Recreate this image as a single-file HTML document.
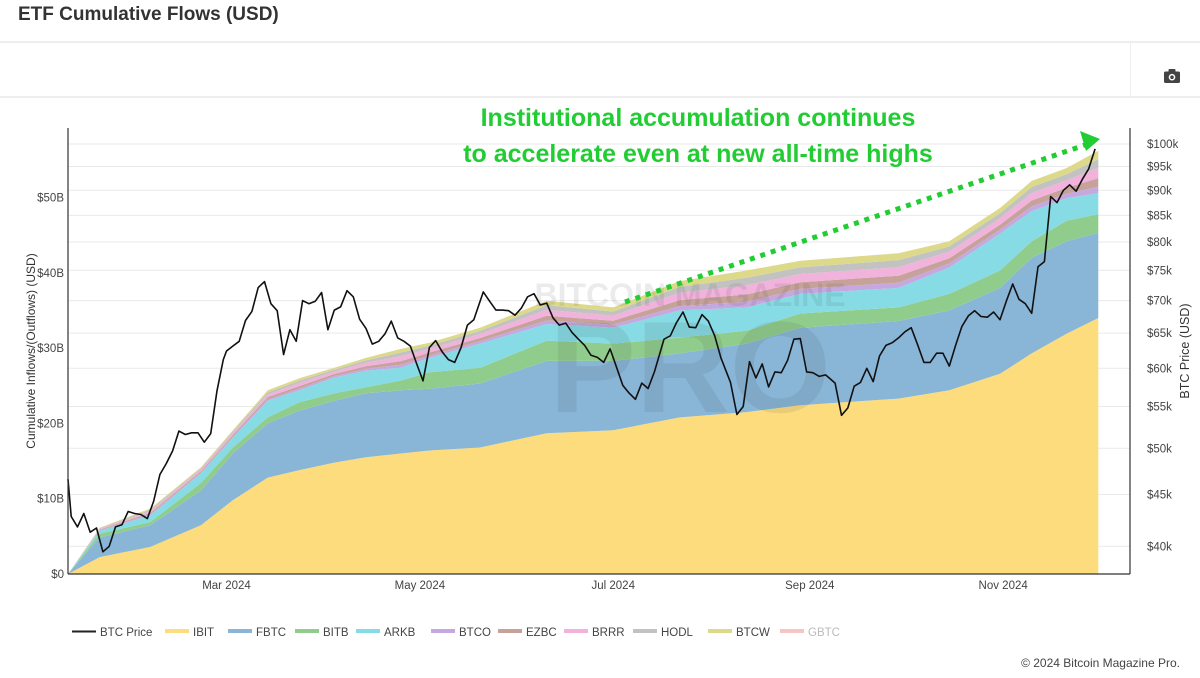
<!DOCTYPE html>
<html><head><meta charset="utf-8">
<style>
html,body{margin:0;padding:0;background:#fff;}
body{width:1200px;height:678px;position:relative;overflow:hidden;font-family:"Liberation Sans",sans-serif;}
#title{position:absolute;left:18px;top:4px;font-size:19px;font-weight:bold;color:#333;}
.hl{position:absolute;left:0;width:1200px;height:2px;background:#eee;}
#vsep{position:absolute;left:1130px;top:43px;width:1px;height:54px;background:#eee;}
#chart{position:absolute;left:0;top:0;}
</style></head><body>
<div id="title">ETF Cumulative Flows (USD)</div>
<div class="hl" style="top:41px"></div>
<div class="hl" style="top:96px"></div>
<div id="vsep"></div>
<svg id="camera" style="position:absolute;left:1164px;top:69px" width="16" height="14" viewBox="0 0 16 14">
<rect x="0" y="2.5" width="16" height="11.5" rx="1.5" fill="#444"/><rect x="4.5" y="0" width="7" height="4" rx="1" fill="#444"/><circle cx="8" cy="8.2" r="3.3" fill="#fff"/><circle cx="8" cy="8.2" r="1.8" fill="#444"/></svg>
<svg id="chart" width="1200" height="678" xmlns="http://www.w3.org/2000/svg"></svg>
<script>
const stackDates=["2024-01-11","2024-01-21","2024-02-06","2024-02-22","2024-03-03","2024-03-14","2024-03-24","2024-04-04","2024-04-14","2024-04-25","2024-05-04","2024-05-20","2024-06-10","2024-07-01","2024-07-22","2024-08-12","2024-08-29","2024-09-29","2024-10-15","2024-10-31","2024-11-10","2024-11-21","2024-12-01"];
const IBIT=[0,2.25,3.6,6.5,9.8,12.8,13.8,14.8,15.5,16.0,16.4,16.8,18.7,19.1,20.8,21.5,22.4,23.3,24.4,26.6,29.3,31.9,34.0];
const FBTC=[0,2.6,2.9,4.6,6.2,7.2,7.9,8.2,8.5,8.4,8.2,8.5,9.6,9.2,8.5,9.1,10.3,10.3,10.6,11.4,12.7,12.3,11.3];
const BITB=[0,0.5,0.4,1.0,0.8,0.8,1.1,1.0,0.8,1.3,2.2,2.1,2.7,2.3,2.1,1.7,1.9,1.8,2.2,2.3,2.2,2.7,2.5];
const ARKB=[0,0.4,0.9,1.3,1.3,2.2,1.6,2.1,2.2,1.7,1.9,3.2,2.2,2.1,3.6,3.1,2.6,2.6,3.5,4.9,4.0,3.0,2.8];
const BTCO=[0,0.06,0.14,0.12,0.15,0.21,0.24,0.2,0.26,0.38,0.3,0.32,0.47,0.4,0.59,0.74,0.66,0.69,0.53,0.51,0.6,0.6,0.84];
const EZBC=[0,0.08,0.18,0.16,0.2,0.28,0.32,0.26,0.34,0.5,0.4,0.42,0.62,0.54,0.78,0.98,0.88,0.92,0.7,0.68,0.8,0.8,1.12];
const BRRR=[0,0.1,0.23,0.2,0.25,0.35,0.4,0.33,0.43,0.63,0.5,0.53,0.78,0.68,0.98,1.23,1.1,1.15,0.88,0.85,1.0,1.0,1.4];
const HODL=[0,0.08,0.18,0.16,0.2,0.28,0.32,0.26,0.34,0.5,0.4,0.42,0.62,0.54,0.78,0.98,0.88,0.92,0.7,0.68,0.8,0.8,1.12];
const BTCW=[0,0.08,0.17,0.16,0.2,0.28,0.32,0.25,0.33,0.49,0.4,0.41,0.61,0.54,0.77,0.97,0.88,0.92,0.69,0.68,0.8,0.8,1.12];
const priceDates=["01-11","01-12","01-14","01-16","01-18","01-20","01-22","01-24","01-26","01-28","01-30","02-01","02-03","02-05","02-07","02-09","02-11","02-13","02-15","02-17","02-19","02-21","02-23","02-25","02-27","02-29","03-01","03-03","03-05","03-07","03-09","03-11","03-13","03-15","03-17","03-19","03-21","03-23","03-25","03-27","03-29","03-31","04-02","04-04","04-06","04-08","04-10","04-12","04-14","04-16","04-18","04-20","04-22","04-24","04-26","04-28","04-30","05-02","05-04","05-06","05-08","05-10","05-12","05-14","05-16","05-18","05-21","05-23","05-25","05-27","05-29","05-31","06-02","06-04","06-06","06-08","06-10","06-12","06-14","06-16","06-18","06-20","06-22","06-24","06-26","06-28","06-30","07-02","07-04","07-06","07-08","07-10","07-12","07-14","07-17","07-19","07-21","07-23","07-25","07-27","07-29","07-31","08-02","08-04","08-07","08-09","08-11","08-13","08-15","08-17","08-19","08-21","08-23","08-25","08-27","08-29","08-31","09-02","09-04","09-06","09-09","09-11","09-13","09-15","09-17","09-19","09-21","09-23","09-25","09-27","09-29","10-01","10-03","10-05","10-07","10-09","10-11","10-13","10-15","10-17","10-19","10-21","10-23","10-25","10-27","10-29","10-31","11-02","11-04","11-06","11-08","11-10","11-12","11-14","11-16","11-18","11-20","11-22","11-24","11-26","11-28","11-30"];
const priceK=[46.6,42.8,41.8,43.1,41.3,41.7,39.5,40.0,41.8,42.0,43.3,43.1,43.0,42.6,44.3,47.1,48.3,49.7,52.0,51.6,51.8,51.8,50.7,51.7,57.0,61.2,62.4,63.1,63.8,66.9,68.3,72.1,73.1,69.5,68.4,61.9,65.5,63.8,70.0,69.5,69.9,71.3,65.5,68.5,69.0,71.6,70.6,67.1,65.7,63.4,63.8,64.9,66.8,64.3,63.8,63.1,60.6,58.3,62.9,63.9,62.3,61.2,60.8,62.9,66.2,67.0,71.4,69.9,68.5,68.5,68.4,67.7,68.8,70.6,71.1,69.3,69.6,67.3,66.2,66.5,65.1,64.1,63.2,61.8,61.5,60.8,62.7,60.2,57.7,56.7,55.9,58.0,57.3,59.5,64.1,64.6,66.6,68.2,65.9,65.8,67.8,66.8,64.6,61.4,58.1,54.0,55.0,60.9,58.7,60.6,57.5,59.5,59.4,61.1,64.1,64.2,59.5,59.4,58.9,59.1,58.0,53.9,54.8,57.6,58.1,60.0,58.2,61.7,63.2,63.6,64.3,65.2,65.8,63.3,60.8,60.8,62.1,62.1,60.3,63.2,66.0,67.6,68.4,67.5,67.4,68.2,67.0,69.9,72.7,70.2,69.5,68.0,75.6,76.5,88.7,87.5,90.0,91.1,89.8,92.3,94.5,98.9,99.0,93.0,92.5,95.8];
const leftTicks=[0,10,20,30,40,50];
const rightTicks=[40,45,50,55,60,65,70,75,80,85,90,95,100];
const xTicks=["2024-03-01","2024-05-01","2024-07-01","2024-09-01","2024-11-01"];
const xTickLabels=["Mar 2024","May 2024","Jul 2024","Sep 2024","Nov 2024"];

const svg=document.getElementById('chart');
const NS="http://www.w3.org/2000/svg";
const X0=68,X1=1130,Y0=574,YT=128;
const t0=Date.UTC(2024,0,11);
function dayOf(s){const p=s.split('-').map(Number);return (Date.UTC(p[0],p[1]-1,p[2])-t0)/86400000;}
function xs(day){return X0+day*3.17;}
function yL(b){return Y0-b*7.53;}
function yR(k){return 144+439*Math.log(100/k);}
function mk(tag,attrs,parent){const e=document.createElementNS(NS,tag);for(const k in attrs)e.setAttribute(k,attrs[k]);(parent||svg).appendChild(e);return e;}

const grid=mk('g',{});


rightTicks.forEach(k=>{mk('line',{x1:X0,x2:X1,y1:yR(k),y2:yR(k),stroke:'#eaeaea','stroke-width':1},grid);});

const series=[["IBIT",IBIT,"#fddc7e"],["FBTC",FBTC,"#89b5d7"],["BITB",BITB,"#90cd8c"],["ARKB",ARKB,"#86dbe5"],["BTCO",BTCO,"#c5a8df"],["EZBC",EZBC,"#c6a29b"],["BRRR",BRRR,"#f1b2dc"],["HODL",HODL,"#c2c2c2"],["BTCW",BTCW,"#dcd98b"]];
const sx=stackDates.map(d=>xs(dayOf(d)));
let base=stackDates.map(()=>0);
const areas=mk('g',{});


series.forEach(([name,vals,col])=>{
  const top=base.map((b,i)=>b+vals[i]);
  let d='M'+sx.map((x,i)=>x.toFixed(1)+','+yL(top[i]).toFixed(1)).join('L');
  for(let i=sx.length-1;i>=0;i--)d+='L'+sx[i].toFixed(1)+','+yL(base[i]).toFixed(1);
  d+='Z';
  const p=mk('path',{d:d,fill:col,stroke:'none'},areas);
  
  
  base=top;
});

const wm=mk('g',{opacity:0.09});


const w1=mk('text',{x:690,y:306,'font-size':32,'font-weight':'bold',fill:'#333','text-anchor':'middle','font-family':'Liberation Sans'},wm);w1.textContent='BITCOIN MAGAZINE';
const w2=mk('text',{x:690,y:412,'font-size':130,'font-weight':'bold',fill:'#333','text-anchor':'middle','font-family':'Liberation Sans'},wm);w2.textContent='PRO';

const pd='M'+priceDates.map((d,i)=>xs(dayOf('2024-'+d)).toFixed(1)+','+yR(priceK[i]).toFixed(1)).join('L');
const pl=mk('path',{d:pd,fill:'none',stroke:'#111','stroke-width':1.6,'stroke-linejoin':'round'});



const ax=mk('g',{stroke:'#333','stroke-width':1.2});


mk('line',{x1:X0,x2:X0,y1:YT,y2:Y0},ax);
mk('line',{x1:X1,x2:X1,y1:YT,y2:Y0},ax);
mk('line',{x1:X0,x2:X1,y1:Y0,y2:Y0},ax);

function txt(x,y,s,attrs,name){const t=mk('text',Object.assign({x:x,y:y,'font-family':'Liberation Sans','font-size':11.5,fill:'#444'},attrs||{}));t.textContent=s;return t;}
leftTicks.forEach(b=>txt(64,yL(b)+4,'$'+b+(b?'B':''),{'text-anchor':'end'},'y-left-tick-label'));
rightTicks.forEach(k=>txt(1147,yR(k)+4,'$'+k+'k',{},'y-right-tick-label'));
xTicks.forEach((d,i)=>txt(xs(dayOf(d)),589,xTickLabels[i],{'text-anchor':'middle'},'x-tick-label'));
txt(35,351,'Cumulative Inflows/(Outflows) (USD)',{'text-anchor':'middle','font-size':12,fill:'#333',transform:'rotate(-90 35 351)'},'y-left-axis-title');
txt(1189,351,'BTC Price (USD)',{'text-anchor':'middle','font-size':12.5,fill:'#333',transform:'rotate(-90 1189 351)'},'y-right-axis-title');

const ann=mk('g',{});


txt(698,126,'Institutional accumulation continues',{'text-anchor':'middle','font-size':25,'font-weight':'bold',fill:'#22cc33'},'annotation-line-1');
txt(698,162,'to accelerate even at new all-time highs',{'text-anchor':'middle','font-size':25,'font-weight':'bold',fill:'#22cc33'},'annotation-line-2');
mk('line',{x1:625,y1:302,x2:1085,y2:145,stroke:'#22cc33','stroke-width':5,'stroke-dasharray':'5 6'},ann);
mk('polygon',{points:'1100,139 1080,131 1086,151',fill:'#22cc33'},ann);

const legItems=[["BTC Price","#222",1],["IBIT","#fddc7e"],["FBTC","#89b5d7"],["BITB","#90cd8c"],["ARKB","#86dbe5"],["BTCO","#c5a8df"],["EZBC","#c6a29b"],["BRRR","#f1b2dc"],["HODL","#c2c2c2"],["BTCW","#dcd98b"],["GBTC","#f6c6c6"]];
const legX=[72,165,228,295,356,431,498,564,633,708,780];
legItems.forEach((it,i)=>{
  const g=mk('g',{});
  
  
  mk('rect',{x:legX[i],y:it[2]?630.5:629,width:24,height:it[2]?2:4,fill:it[1]},g);
  const t=mk('text',{x:legX[i]+28,y:636,'font-family':'Liberation Sans','font-size':11.5,fill:it[0]==='GBTC'?'#bbb':'#444'},g);t.textContent=it[0];
});
txt(1180,667,'© 2024 Bitcoin Magazine Pro.',{'text-anchor':'end','font-size':12,fill:'#444'},'copyright');
</script>
</body></html>
